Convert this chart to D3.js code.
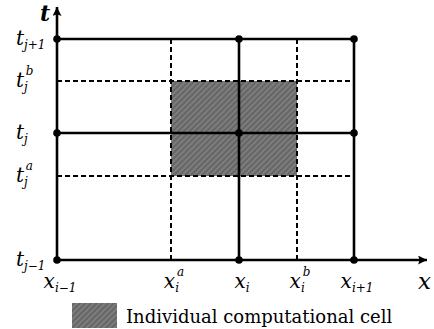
<!DOCTYPE html>
<html>
<head>
<meta charset="utf-8">
<script src="https://cdn.jsdelivr.net/npm/d3@7"></script>
<style>
  body { margin: 0; background: #fff; }
  svg text { font-family: "DejaVu Serif", "Liberation Serif", "Noto Serif", serif; }
</style>
</head>
<body>
<div id="chart"></div>
<script>
// grid positions (arbitrary units along each axis)
const xNames = ["i\u22121", "i^a", "i", "i^b", "i+1"];
const xValues = [0, 114, 182, 240, 297];
const xSolid = [true, false, true, false, true];

const tNames = ["j\u22121", "j^a", "j", "j^b", "j+1"];
const tValues = [0, 84, 127, 179, 221];
const tSolid = [true, false, true, false, true];

// the shaded cell spans x_i^a..x_i^b and t_j^a..t_j^b
const cellX = [114, 240];
const cellT = [84, 179];

const legendLabel = "Individual computational cell";

const width = 434, height = 329;
const x = d3.scaleLinear().domain([0, 370]).range([57, 427]);
const y = d3.scaleLinear().domain([0, 253]).range([260, 7]);

const svg = d3.select("#chart").append("svg")
  .attr("width", width).attr("height", height);

const defs = svg.append("defs");
const pat = defs.append("pattern")
  .attr("id", "hatch")
  .attr("patternUnits", "userSpaceOnUse")
  .attr("width", 4).attr("height", 4)
  .attr("patternTransform", "rotate(-45)");
pat.append("rect").attr("width", 4).attr("height", 4).attr("fill", "#666");
pat.append("rect").attr("width", 4).attr("height", 1.6).attr("fill", "#828282");

defs.append("marker")
  .attr("id", "arrow")
  .attr("viewBox", "0 0 10 10")
  .attr("refX", 10).attr("refY", 5)
  .attr("markerUnits", "userSpaceOnUse")
  .attr("markerWidth", 16).attr("markerHeight", 9)
  .attr("orient", "auto")
  .append("path").attr("d", "M0,0 L10,5 L0,10 L2,5 Z").attr("fill", "#000");

const xMax = xValues[xValues.length - 1];
const tMax = tValues[tValues.length - 1];

// shaded cell
svg.append("rect")
  .attr("x", x(cellX[0])).attr("y", y(cellT[1]))
  .attr("width", x(cellX[1]) - x(cellX[0]))
  .attr("height", y(cellT[0]) - y(cellT[1]))
  .attr("fill", "url(#hatch)");

// dashed lines first
const g = svg.append("g");
g.selectAll("line.vd").data(xValues.filter((d, i) => !xSolid[i])).join("line")
  .attr("x1", d => x(d)).attr("x2", d => x(d))
  .attr("y1", y(tMax)).attr("y2", y(0))
  .attr("stroke", "#000").attr("stroke-width", 2).attr("stroke-dasharray", "5,3");
g.selectAll("line.hd").data(tValues.filter((d, i) => !tSolid[i])).join("line")
  .attr("y1", d => y(d)).attr("y2", d => y(d))
  .attr("x1", x(0)).attr("x2", x(xMax))
  .attr("stroke", "#000").attr("stroke-width", 2).attr("stroke-dasharray", "5,3");

// solid lines
const solidX = xValues.filter((d, i) => xSolid[i] && d > 0);
const solidT = tValues.filter((d, i) => tSolid[i] && d > 0);
svg.append("g").selectAll("line").data(solidX).join("line")
  .attr("x1", d => x(d)).attr("x2", d => x(d))
  .attr("y1", y(tMax)).attr("y2", y(0))
  .attr("stroke", "#000").attr("stroke-width", 2.6);
svg.append("g").selectAll("line").data(solidT).join("line")
  .attr("y1", d => y(d)).attr("y2", d => y(d))
  .attr("x1", x(0)).attr("x2", x(xMax))
  .attr("stroke", "#000").attr("stroke-width", 2.6);

// axes with arrows
svg.append("line")
  .attr("x1", x(0)).attr("x2", x(370)).attr("y1", y(0)).attr("y2", y(0))
  .attr("stroke", "#000").attr("stroke-width", 2.6).attr("marker-end", "url(#arrow)");
svg.append("line")
  .attr("x1", x(0)).attr("x2", x(0)).attr("y1", y(0)).attr("y2", y(253))
  .attr("stroke", "#000").attr("stroke-width", 2.6).attr("marker-end", "url(#arrow)");

// nodes at solid intersections
const nodes = [];
xValues.forEach((xv, i) => tValues.forEach((tv, j) => {
  if (xSolid[i] && tSolid[j]) nodes.push([xv, tv]);
}));
svg.append("g").selectAll("circle").data(nodes).join("circle")
  .attr("cx", d => x(d[0])).attr("cy", d => y(d[1])).attr("r", 3.8).attr("fill", "#000");

// labels like x_i^a : base letter, subscript, optional superscript
function label(sel, base, name, cx, cy, anchor) {
  const [sub, sup] = name.split("^");
  const t = sel.append("text").attr("x", cx).attr("y", cy)
    .attr("text-anchor", anchor).attr("font-size", 20).attr("font-style", "italic");
  t.append("tspan").text(base);
  t.append("tspan").attr("font-size", 12).attr("dy", 4).text(sub);
  if (sup) {
    t.append("tspan").attr("font-size", 12).attr("dx", -2).attr("dy", -16).text(sup);
  }
  return t;
}

const xl = svg.append("g");
xValues.forEach((v, i) => {
  label(xl, "x", xNames[i], x(v) + 3, 288, "middle");
});
const tl = svg.append("g");
tValues.forEach((v, i) => {
  label(tl, "t", tNames[i], 16, y(v) + 6, "start");
});

svg.append("text").attr("x", 40).attr("y", 21)
  .attr("font-size", 22).attr("font-style", "italic").attr("font-weight", "bold").text("t");
svg.append("text").attr("x", 418).attr("y", 289)
  .attr("font-size", 23).attr("font-style", "italic").text("x");

// legend
svg.append("rect")
  .attr("x", 72).attr("y", 303).attr("width", 45).attr("height", 25)
  .attr("fill", "url(#hatch)");
svg.append("text").attr("x", 126).attr("y", 323)
  .attr("font-size", 18).text(legendLabel);
</script>
</body>
</html>
